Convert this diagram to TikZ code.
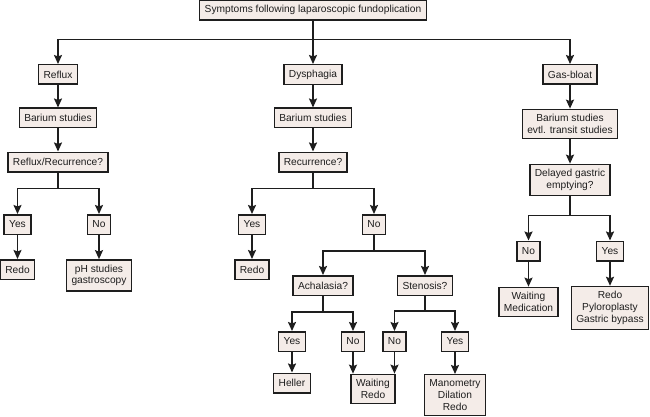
\documentclass[tikz,border=0pt]{standalone}
\usepackage{fontspec}
\setmainfont{Liberation Sans}
\usepackage{tikz}
\usetikzlibrary{arrows.meta,positioning,calc}
\usepackage{xcolor}
\definecolor{boxfill}{RGB}{244,236,232}
\definecolor{inkgray}{RGB}{30,30,30}

\begin{document}
\begin{tikzpicture}[
    x=1pt, y=-1pt,
    font=\fontsize{10.2}{11.7}\selectfont,
    >={Stealth[length=9pt,width=8pt,inset=1.5pt]},
    arrow/.style={->, line width=1.6pt, draw=inkgray},
    box/.style={draw=inkgray, line width=1.5pt, fill=boxfill, align=center,
                inner xsep=5pt, inner ysep=5pt, minimum height=19.5pt,
                text=inkgray},
]
\useasboundingbox (0,0) rectangle (650,417);

%% ── Top ───────────────────────────────────────────────────────
\node[box] (top)    at (313,10)    {Symptoms following laparoscopic fundoplication};
\node[box] (reflux) at (58,74.5)   {Reflux};
\node[box] (dysph)  at (313,74.5)  {Dysphagia};
\node[box] (gas)    at (570,74.5)  {Gas-bloat};

\draw[arrow] (top) -- (dysph);
\draw[arrow] (top.south) -- ++(0,19) -| (reflux.north);
\draw[arrow] (top.south) -- ++(0,19) -| (gas.north);

%% ── Reflux ────────────────────────────────────────────────────
\node[box] (bar1)  at (58,118)    {Barium studies};
\node[box] (q1)    at (58,162)    {Reflux/Recurrence?};
\node[box] (yes1)  at (17.5,224.5) {Yes};
\node[box] (no1)   at (99,224.5)  {No};
\node[box] (redo1) at (17.5,269.5) {Redo};
\node[box] (ph)    at (99,275.5)  {pH studies\\gastroscopy};

\draw[arrow] (reflux) -- (bar1);
\draw[arrow] (bar1)   -- (q1);
\draw[arrow] (q1.south) -- ++(0,16) -| (yes1.north);
\draw[arrow] (q1.south) -- ++(0,16) -| (no1.north);
\draw[arrow] (yes1) -- (redo1);
\draw[arrow] (no1)  -- (ph);

%% ── Dysphagia ─────────────────────────────────────────────────
\node[box] (bar2)  at (313,118)   {Barium studies};
\node[box] (q2)    at (313,162)   {Recurrence?};
\node[box] (yes2)  at (252,224.5) {Yes};
\node[box] (no2)   at (374,224.5) {No};
\node[box] (redo2) at (252,269.5) {Redo};
\node[box] (achal) at (323,285.5) {Achalasia?};
\node[box] (sten)  at (425,285.5) {Stenosis?};
\node[box] (yes3)  at (292,341.5) {Yes};
\node[box] (no3)   at (353,341.5) {No};
\node[box] (no4)   at (394.5,341.5) {No};
\node[box] (yes4)  at (455,341.5) {Yes};
\node[box] (heller) at (292,383)  {Heller};
\node[box] (wait)  at (373,389)   {Waiting\\Redo};
\node[box] (mano)  at (455,395)   {Manometry\\Dilation\\Redo};

\draw[arrow] (dysph) -- (bar2);
\draw[arrow] (bar2)  -- (q2);
\draw[arrow] (q2.south) -- ++(0,16) -| (yes2.north);
\draw[arrow] (q2.south) -- ++(0,16) -| (no2.north);
\draw[arrow] (yes2) -- (redo2);
\draw[arrow] (no2.south) -- ++(0,16) -| (achal.north);
\draw[arrow] (no2.south) -- ++(0,16) -| (sten.north);
\draw[arrow] (achal.south) -- ++(0,16) -| (yes3.north);
\draw[arrow] (achal.south) -- ++(0,16) -| (no3.north);
\draw[arrow] (sten.south) -- ++(0,15) -| (no4.north);
\draw[arrow] (sten.south) -- ++(0,15) -| (yes4.north);
\draw[arrow] (yes3) -- (heller);
\draw[arrow] (no3.south) -- (no3.south |- wait.north);
\draw[arrow] (no4.south) -- (no4.south |- wait.north);
\draw[arrow] (yes4) -- (mano);

%% ── Gas-bloat ─────────────────────────────────────────────────
\node[box] (bar3)  at (570,124)   {Barium studies\\evtl. transit studies};
\node[box] (q3)    at (570,180)   {Delayed gastric\\emptying?};
\node[box] (no5)   at (528.5,251) {No};
\node[box] (yes5)  at (610,251)   {Yes};
\node[box] (waitm) at (528.5,302) {Waiting\\Medication};
\node[box] (redo3) at (610,308)   {Redo\\Pyloroplasty\\Gastric bypass};

\draw[arrow] (gas)  -- (bar3);
\draw[arrow] (bar3) -- (q3);
\draw[arrow] (q3.south) -- ++(0,19) -| (no5.north);
\draw[arrow] (q3.south) -- ++(0,19) -| (yes5.north);
\draw[arrow] (no5)  -- (waitm);
\draw[arrow] (yes5) -- (redo3);

\end{tikzpicture}
\end{document}
